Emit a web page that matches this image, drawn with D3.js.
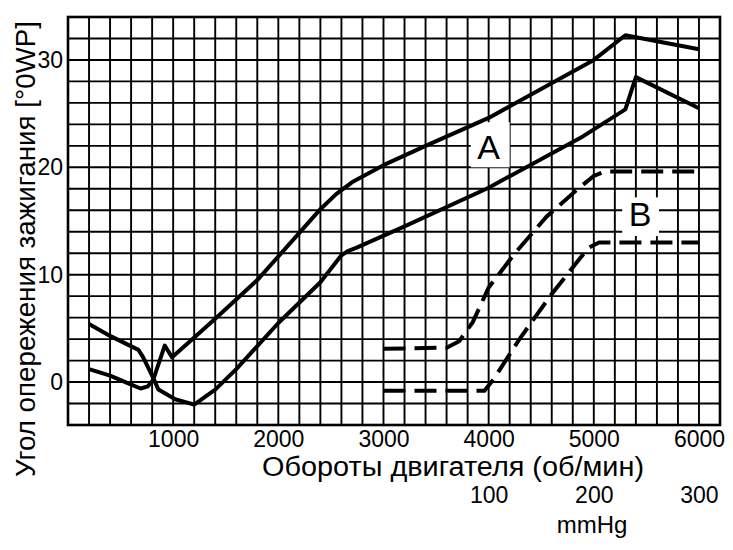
<!DOCTYPE html>
<html>
<head>
<meta charset="utf-8">
<script src="https://cdnjs.cloudflare.com/ajax/libs/d3/7.8.5/d3.min.js"></script>
<style>
  body { margin: 0; background: #fff; }
  text { font-family: "Liberation Sans", Arial, sans-serif; fill: #000; }
</style>
</head>
<body>
<div id="chart"></div>
<script>
// tick labels
var rpmTicks = [1000, 2000, 3000, 4000, 5000, 6000];
var degTicks = [0, 10, 20, 30];
var mmHgTicks = [100, 200, 300];

// curve A, starts high on the left (rpm, degrees)
var curveA1 = [[200, 5.4], [400, 4.3], [670, 3.0], [715, 2.3], [810, 0.4], [860, -0.7],
    [1020, -1.6], [1200, -2.1], [1400, -0.7], [1600, 1.2], [2000, 5.5], [2400, 9.3],
    [2600, 11.8], [2660, 12.2], [2740, 12.5], [3200, 14.5], [4000, 18.1], [4900, 22.9],
    [5300, 25.4], [5400, 28.4], [6000, 25.5]];

// curve A, starts low on the left
var curveA2 = [[200, 1.2], [400, 0.6], [590, -0.2], [690, -0.6], [760, -0.4], [810, 0.2],
    [920, 3.4], [990, 2.3], [1400, 5.9], [1800, 9.5], [2200, 13.9], [2400, 16.1],
    [2550, 17.5], [2700, 18.6], [2850, 19.4], [3000, 20.2], [3400, 22.0], [4000, 24.6],
    [5000, 30.0], [5300, 32.3], [6000, 31.0]];

// curves B (dashed)
var curveB1 = [[3000, 3.1], [3600, 3.2], [3720, 3.8], [3850, 5.6], [4000, 8.8], [4250, 12.0],
    [4550, 15.4], [4850, 18.0], [5000, 19.2], [5100, 19.6], [6000, 19.6]];
var curveB2 = [[3000, -0.8], [3960, -0.8], [4050, 0.3], [4300, 4.1], [4600, 8.2], [4850, 11.3],
    [4950, 12.5], [5050, 13.0], [6000, 13.0]];

function base(){
    var w = 733;
    var h = 550;
    var left = 68, right = 720, top = 17, bottom = 425;

    var svg = d3.select("#chart")
    .append("svg")
    .attr("width", w)
    .attr("height", h);

    svg.append("rect").attr("width", w).attr("height", h).attr("fill", "#fff");

    var xScale = d3.scaleLinear().domain([0, 6200]).range([left, right]);
    var yScale = d3.scaleLinear().domain([-4, 34]).range([bottom, top]);
    // mmHg scale shares the rpm grid: 0 mmHg sits on 3000 rpm
    var mScale = d3.scaleLinear().domain([0, 300]).range([xScale(3000), xScale(6000)]);

    // grid
    var grid = svg.append("g").attr("stroke", "#000").attr("stroke-width", 1.9);
    grid.selectAll(".v")
    .data(d3.range(0, 6201, 200))
    .enter()
    .append("line")
    .attr("x1", function(d) { return xScale(d); })
    .attr("x2", function(d) { return xScale(d); })
    .attr("y1", yScale(-4))
    .attr("y2", yScale(34));
    grid.selectAll(".h")
    .data(d3.range(-4, 35, 2))
    .enter()
    .append("line")
    .attr("x1", xScale(0))
    .attr("x2", xScale(6200))
    .attr("y1", function(d) { return yScale(d); })
    .attr("y2", function(d) { return yScale(d); });

    svg.append("rect")
    .attr("x", xScale(0)).attr("y", yScale(34))
    .attr("width", xScale(6200) - xScale(0))
    .attr("height", yScale(-4) - yScale(34))
    .attr("fill", "none").attr("stroke", "#000").attr("stroke-width", 2.6);

    // white boxes behind the letters
    svg.append("rect")
    .attr("x", xScale(3830)).attr("y", yScale(24.2))
    .attr("width", xScale(4200) - xScale(3830))
    .attr("height", yScale(20) - yScale(24.2))
    .attr("fill", "#fff");
    svg.append("rect")
    .attr("x", xScale(5270)).attr("y", yScale(17.2))
    .attr("width", xScale(5620) - xScale(5270))
    .attr("height", yScale(13.6) - yScale(17.2))
    .attr("fill", "#fff");

    var line = d3.line()
    .x(function(d) { return xScale(d[0]); })
    .y(function(d) { return yScale(d[1]); });

    [curveA1, curveA2].forEach(function(c) {
        svg.append("path")
        .attr("d", line(c))
        .attr("fill", "none")
        .attr("stroke", "#000")
        .attr("stroke-width", 4)
        .attr("stroke-linejoin", "round");
    });
    [curveB1, curveB2].forEach(function(c) {
        svg.append("path")
        .attr("d", line(c))
        .attr("fill", "none")
        .attr("stroke", "#000")
        .attr("stroke-width", 4)
        .attr("stroke-dasharray", "22,9");
    });

    svg.append("text")
    .attr("x", xScale(4000)).attr("y", yScale(20.8))
    .attr("text-anchor", "middle")
    .attr("font-size", 34)
    .text("A");
    svg.append("text")
    .attr("x", xScale(5440)).attr("y", yScale(14.5))
    .attr("text-anchor", "middle")
    .attr("font-size", 34)
    .text("B");

    // axes
    var fmt = d3.format("d");
    var xAxis = svg.append("g")
    .attr("transform", "translate(0," + bottom + ")")
    .call(d3.axisBottom(xScale).tickValues(rpmTicks).tickFormat(fmt).tickSize(0).tickPadding(6));
    var mAxis = svg.append("g")
    .attr("transform", "translate(0,481)")
    .call(d3.axisBottom(mScale).tickValues(mmHgTicks).tickFormat(fmt).tickSize(0).tickPadding(6));
    var yAxis = svg.append("g")
    .attr("transform", "translate(" + left + ",0)")
    .call(d3.axisLeft(yScale).tickValues(degTicks).tickFormat(fmt).tickSize(0).tickPadding(5));

    [xAxis, mAxis, yAxis].forEach(function(a) {
        a.select(".domain").remove();
        a.attr("font-family", null);
        a.selectAll("text").style("font-size", "23px");
    });

    svg.append("text")
    .attr("x", 453).attr("y", 476)
    .attr("text-anchor", "middle")
    .attr("font-size", 27)
    .attr("textLength", 382)
    .attr("lengthAdjust", "spacingAndGlyphs")
    .text("Обороты двигателя (об/мин)");

    svg.append("text")
    .attr("x", 592).attr("y", 533)
    .attr("text-anchor", "middle")
    .attr("font-size", 24)
    .text("mmHg");

    svg.append("text")
    .attr("transform", "translate(35,249) rotate(-90)")
    .attr("text-anchor", "middle")
    .attr("font-size", 27)
    .attr("textLength", 456)
    .attr("lengthAdjust", "spacingAndGlyphs")
    .text("Угол опережения зажигания [°0WP]");
}

window.onload = base;
</script>
</body>
</html>
